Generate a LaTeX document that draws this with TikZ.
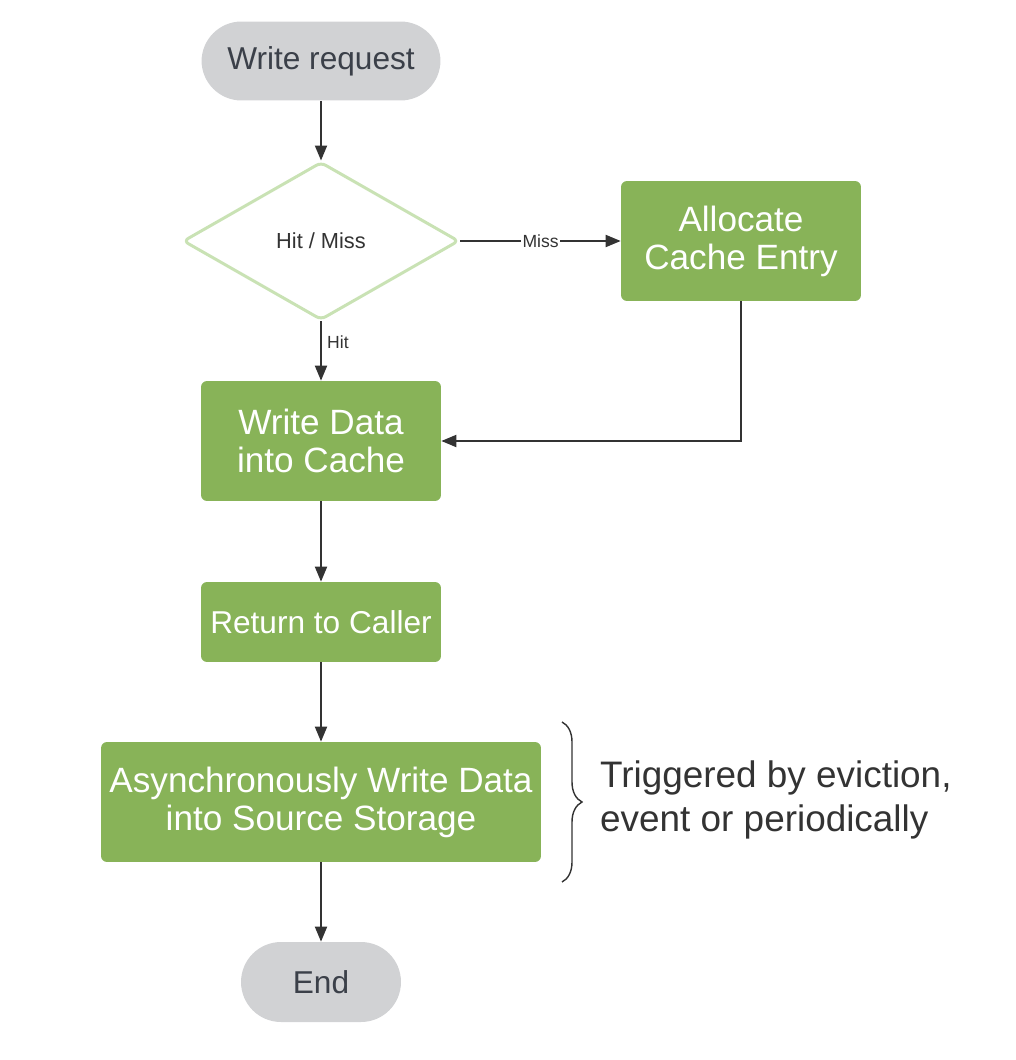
\documentclass[tikz,border=0pt]{standalone}
\usepackage{fontspec}
\setmainfont{Liberation Sans}
\usetikzlibrary{shapes.geometric,arrows.meta,decorations.pathreplacing}
\definecolor{boxgreen}{HTML}{88B358}
\definecolor{pillgrey}{HTML}{D1D2D4}
\definecolor{lightgreen}{HTML}{C9E2B4}
\definecolor{ink}{HTML}{333333}
\definecolor{pilltext}{HTML}{3B4049}
\begin{document}
\begin{tikzpicture}[x=0.02cm, y=-0.02cm,
  pill/.style={rectangle, fill=pillgrey, text=pilltext, rounded corners=0.8cm, minimum height=1.58cm, inner sep=0pt},
  stepbox/.style={rectangle, fill=boxgreen, text=white, rounded corners=0.12cm, minimum width=4.8cm, minimum height=2.4cm, inner sep=0pt, align=center, font=\fontsize{20}{21.6}\selectfont},
  choice/.style={diamond, draw=lightgreen, line width=1.7pt, fill=white, aspect=1.75, minimum width=5.52cm, minimum height=3.16cm, inner sep=0pt, rounded corners=3pt, text=ink, font=\fontsize{12.4}{14}\selectfont},
  flow/.style={draw=ink, line width=1.1pt, -{Triangle[length=0.3cm, width=0.24cm]}},
  lbl/.style={fill=white, inner sep=1pt, text=ink, font=\fontsize{10}{12}\selectfont}]
\useasboundingbox (0,0) rectangle (1016,1060);
\node[pill, minimum width=4.78cm, font=\fontsize{18}{20}\selectfont] (req) at (321,61) {Write request};
\node[choice] (dec) at (321,241) {Hit / Miss};
\node[stepbox] (alloc) at (741,241) {Allocate\\Cache Entry};
\node[stepbox] (write) at (321,441) {Write Data\\into Cache};
\node[stepbox, minimum height=1.6cm, font=\fontsize{18}{20}\selectfont] (ret) at (321,622) {Return to Caller};
\node[stepbox, minimum width=8.8cm] (async) at (321,802) {Asynchronously Write Data\\into Source Storage};
\node[pill, minimum width=3.2cm, minimum height=1.6cm, font=\fontsize{18}{20}\selectfont] (end) at (321,982) {End};
\node[anchor=west, align=left, text=ink, font=\fontsize{21}{25}\selectfont] (note) at (594,800) {Triggered by eviction,\\event or periodically};
\coordinate (brtop) at (562,722);
\coordinate (brbot) at (562,882);
\draw[flow](req) -- (dec);
\draw[flow](dec) -- node[lbl]{Miss} (alloc);
\draw[flow](dec) -- node[lbl, pos=0.35, right, xshift=2pt]{Hit} (write);
\draw[flow](alloc.south) |- (write.east);
\draw[flow](write) -- (ret);
\draw[flow](ret) -- (async);
\draw[flow](async) -- (end);
\draw[ink, line width=0.8pt, decorate, decoration={brace, amplitude=0.4cm}](brtop) -- (brbot);

\end{tikzpicture}
\end{document}
